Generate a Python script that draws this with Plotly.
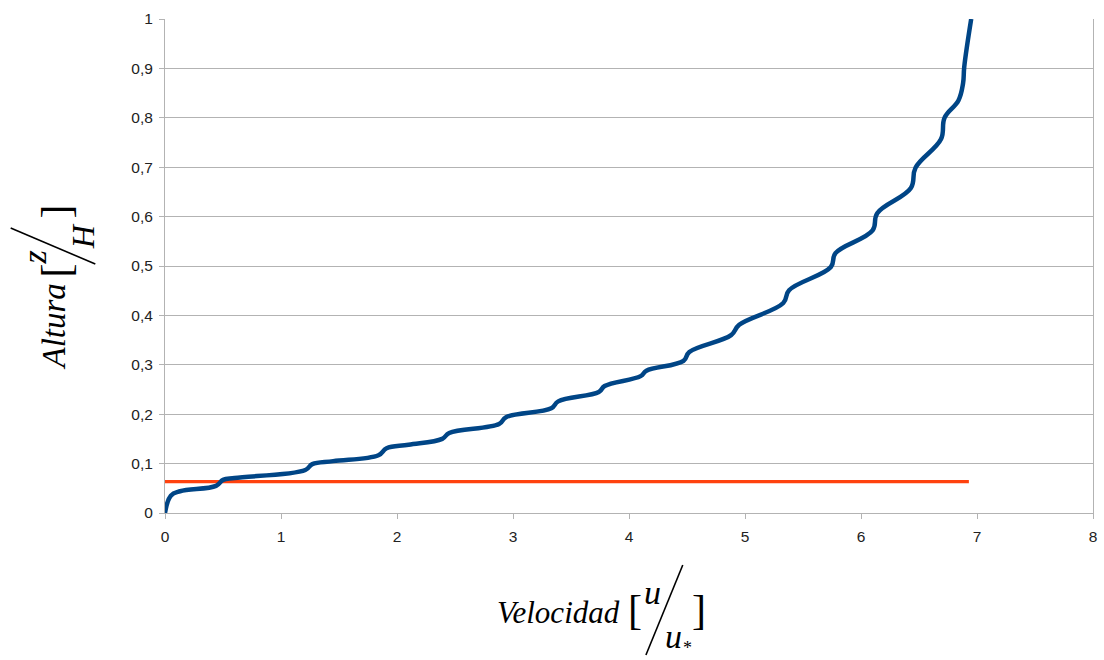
import plotly.graph_objects as go

# ---- data ----
velocidad = [0.0, 0.05, 0.13, 0.44, 0.50, 0.60, 1.21, 1.27, 1.45, 1.84, 1.91, 2.10,
             2.39, 2.45, 2.88, 2.94, 3.33, 3.39, 3.74, 3.79, 4.10, 4.15, 4.47, 4.52,
             4.88, 4.95, 5.33, 5.38, 5.74, 5.78, 6.10, 6.14, 6.43, 6.47, 6.69, 6.72,
             6.84, 6.88, 6.89, 6.95]
altura = [0.0, 0.035, 0.044, 0.055, 0.067, 0.071, 0.087, 0.099, 0.105, 0.117, 0.131, 0.138,
          0.150, 0.162, 0.180, 0.194, 0.212, 0.226, 0.245, 0.257, 0.277, 0.288, 0.308, 0.326,
          0.360, 0.381, 0.425, 0.451, 0.498, 0.526, 0.572, 0.607, 0.658, 0.699, 0.757, 0.800,
          0.835, 0.870, 0.903, 1.0]
ref_x = [0.0, 6.93]
ref_y = [0.0635, 0.0635]

x_ticks = [0, 1, 2, 3, 4, 5, 6, 7, 8]
x_ticktext = ["0", "1", "2", "3", "4", "5", "6", "7", "8"]
y_ticks = [0, 0.1, 0.2, 0.3, 0.4, 0.5, 0.6, 0.7, 0.8, 0.9, 1.0]
y_ticktext = ["0", "0,1", "0,2", "0,3", "0,4", "0,5", "0,6", "0,7", "0,8", "0,9", "1"]

# ---- layout geometry (pixels) ----
W, H = 1104, 660
L, R, T, B = 165, 7, 19, 147
PW, PH = W - L - R, H - T - B


def px(x):
    return (x - L) / PW


def py(y):
    return (H - B - y) / PH


fig = go.Figure()
fig.add_trace(go.Scatter(x=ref_x, y=ref_y, mode="lines",
                         line=dict(color="#ff420e", width=3.2), hoverinfo="skip"))
fig.add_trace(go.Scatter(x=velocidad, y=altura, mode="lines",
                         line=dict(color="#004586", width=4.5, shape="spline", smoothing=1.1),
                         hoverinfo="skip"))

SERIF = "Liberation Serif"
ann = []
# x-axis title pieces
ann.append(dict(x=px(560), y=py(612), text="<i>Velocidad</i>",
                font=dict(family=SERIF, size=31, color="#000")))
ann.append(dict(x=px(637), y=py(610), text="[", font=dict(family=SERIF, size=42, color="#000")))
ann.append(dict(x=px(655), y=py(592), text="<i>u</i>", font=dict(family=SERIF, size=34, color="#000")))
ann.append(dict(x=px(676), y=py(636), text="<i>u</i>", font=dict(family=SERIF, size=34, color="#000")))
ann.append(dict(x=px(690), y=py(648), text="*", font=dict(family=SERIF, size=18, color="#000")))
ann.append(dict(x=px(701), y=py(610), text="]", font=dict(family=SERIF, size=42, color="#000")))
# y-axis title pieces (rotated)
ann.append(dict(x=px(54), y=py(326), text="<i>Altura</i>", textangle=-90,
                font=dict(family=SERIF, size=33, color="#000")))
ann.append(dict(x=px(56), y=py(270), text="[", textangle=-90,
                font=dict(family=SERIF, size=42, color="#000")))
ann.append(dict(x=px(33), y=py(258), text="<i>z</i>", textangle=-90,
                font=dict(family=SERIF, size=34, color="#000")))
ann.append(dict(x=px(83), y=py(236), text="<i>H</i>", textangle=-90,
                font=dict(family=SERIF, size=32, color="#000")))
ann.append(dict(x=px(56), y=py(211), text="]", textangle=-90,
                font=dict(family=SERIF, size=42, color="#000")))
for a in ann:
    a.update(xref="paper", yref="paper", showarrow=False, xanchor="center", yanchor="middle")

shapes = [
    dict(type="line", xref="paper", yref="paper", x0=px(685), y0=py(565), x1=px(648), y1=py(655),
         line=dict(color="#000", width=1.6)),
    dict(type="line", xref="paper", yref="paper", x0=px(10), y0=py(228), x1=px(95), y1=py(264),
         line=dict(color="#000", width=1.6)),
]

axis_common = dict(showline=True, linecolor="#b3b3b3", linewidth=1, ticks="outside",
                   ticklen=5, tickcolor="#b3b3b3", zeroline=False,
                   tickfont=dict(family="Liberation Sans", size=15.5, color="#222"))
fig.update_layout(
    width=W, height=H, autosize=False,
    margin=dict(l=L, r=R, t=T, b=B),
    paper_bgcolor="white", plot_bgcolor="white",
    showlegend=False,
    annotations=ann, shapes=shapes,
    xaxis=dict(range=[0, 8], tickvals=x_ticks, ticktext=x_ticktext, showgrid=False,
               mirror=False, ticklabelstandoff=4, **axis_common),
    yaxis=dict(range=[0, 1], tickvals=y_ticks, ticktext=y_ticktext, showgrid=True,
               gridcolor="#b3b3b3", gridwidth=1, mirror=True, ticklabelstandoff=3,
               **axis_common),
)
fig.write_html("out.html")
